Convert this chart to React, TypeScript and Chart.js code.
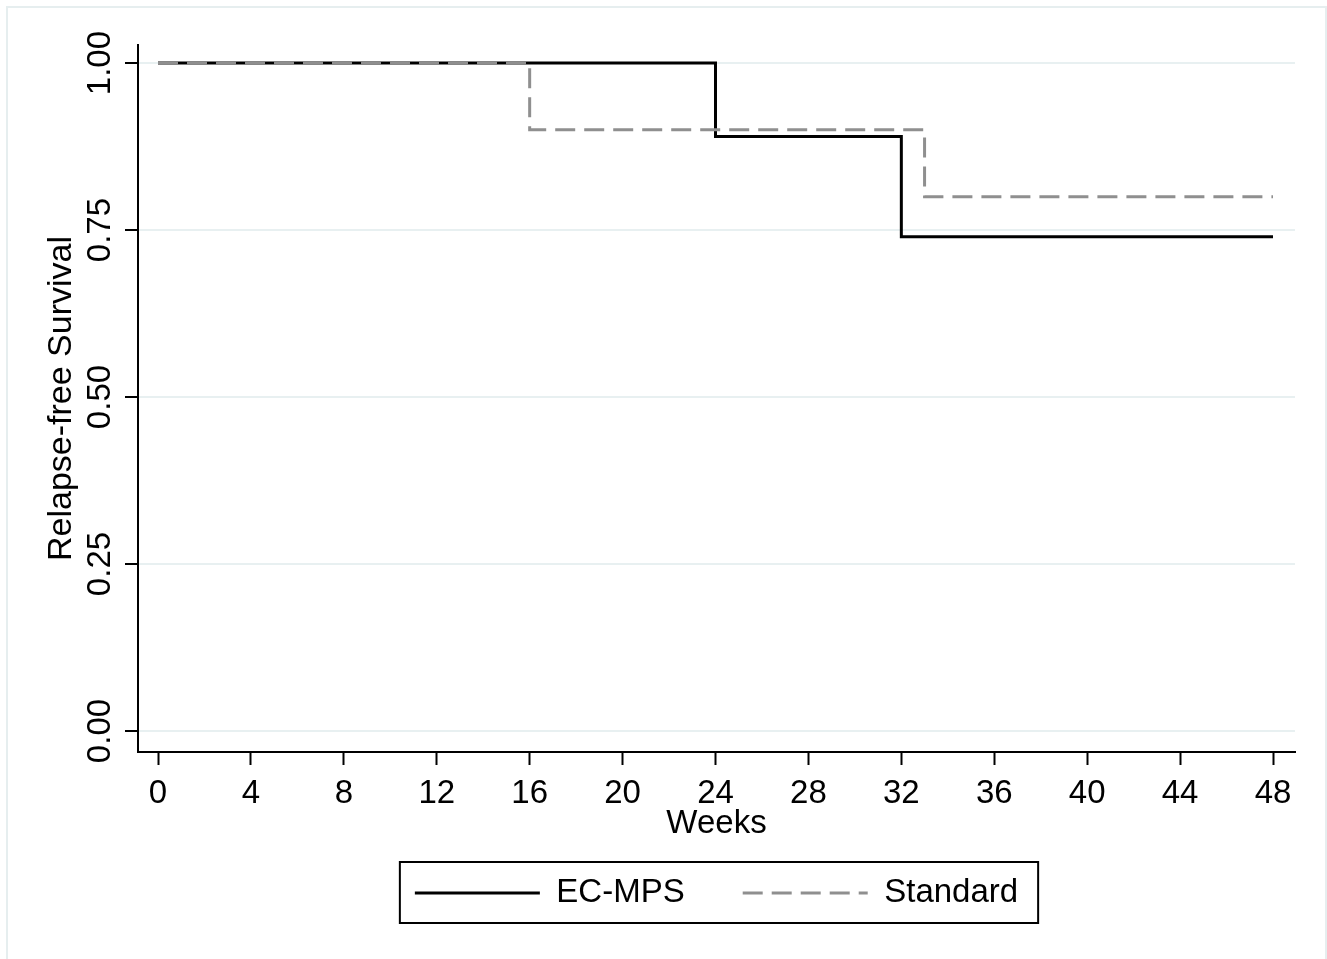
import React, { useEffect, useRef } from "react";
import { Chart, registerables } from "chart.js";

Chart.register(...registerables);

const ecMpsWeeks = [0, 24, 32, 48];
const ecMpsSurvival = [1.0, 0.89, 0.74, 0.74];
const standardWeeks = [0, 16, 33, 48];
const standardSurvival = [1.0, 0.9, 0.8, 0.8];
const xTickValues = [0, 4, 8, 12, 16, 20, 24, 28, 32, 36, 40, 44, 48];
const yTickValues = [0, 0.25, 0.5, 0.75, 1.0];
const seriesNames = ["EC-MPS", "Standard"];
const xTitle = "Weeks";
const yTitle = "Relapse-free Survival";

const FONT = "'Liberation Sans', Arial, sans-serif";

const framePlugin = {
  id: "frames",
  beforeDraw(chart: any) {
    const ctx = chart.ctx;
    ctx.save();
    ctx.fillStyle = "#ffffff";
    ctx.fillRect(0, 0, chart.width, chart.height);
    ctx.strokeStyle = "#e6eeef";
    ctx.lineWidth = 2;
    ctx.strokeRect(7, 7, chart.width - 8, chart.height + 10);
    ctx.restore();
  },
  afterDraw(chart: any) {
    const lg = chart.legend;
    if (!lg || !lg.legendHitBoxes || !lg.legendHitBoxes.length) return;
    const hb = lg.legendHitBoxes;
    const first = hb[0];
    const last = hb[hb.length - 1];
    const left = first.left - 15;
    const right = last.left + last.width + 20;
    const cy = first.top + first.height / 2;
    const ctx = chart.ctx;
    ctx.save();
    ctx.strokeStyle = "#000";
    ctx.lineWidth = 2;
    ctx.setLineDash([]);
    ctx.strokeRect(left, cy - 31, right - left, 61);
    ctx.restore();
  },
};

export default function App() {
  const ref = useRef<HTMLCanvasElement | null>(null);
  useEffect(() => {
    if (!ref.current) return;
    const chart = new Chart(ref.current, {
      type: "line",
      data: {
        datasets: [
          {
            label: seriesNames[0],
            data: ecMpsWeeks.map((w, i) => ({ x: w, y: ecMpsSurvival[i] })),
            borderColor: "#000000",
            backgroundColor: "#000000",
            borderWidth: 3,
            stepped: true,
            pointRadius: 0,
            order: 2,
          },
          {
            label: seriesNames[1],
            data: standardWeeks.map((w, i) => ({ x: w, y: standardSurvival[i] })),
            borderColor: "#8f8f8f",
            backgroundColor: "#8f8f8f",
            borderWidth: 3,
            borderDash: [20, 9],
            stepped: true,
            pointRadius: 0,
            order: 1,
          },
        ],
      },
      options: {
        animation: false,
        responsive: false,
        devicePixelRatio: 1,
        layout: { padding: { left: 45, right: 32, top: 45, bottom: 39.5 } },
        scales: {
          x: {
            type: "linear",
            min: -0.861,
            max: 48.947,
            afterBuildTicks: (s: any) => {
              s.ticks = xTickValues.map((v) => ({ value: v }));
            },
            ticks: {
              autoSkip: false,
              maxRotation: 0,
              minRotation: 0,
              padding: 12,
              color: "#000",
              font: { family: FONT, size: 33, lineHeight: 1 },
              callback: (v: any) => String(v),
            },
            grid: {
              drawOnChartArea: false,
              drawTicks: true,
              tickLength: 13,
              tickColor: "#000",
              tickWidth: 2,
            },
            border: { color: "#000", width: 2 },
            title: {
              display: true,
              text: xTitle,
              color: "#000",
              font: { family: FONT, size: 33, lineHeight: 1 },
              padding: { top: -14.5, bottom: -22 },
            },
          },
          y: {
            type: "linear",
            min: -0.0314,
            max: 1.027,
            afterBuildTicks: (s: any) => {
              s.ticks = yTickValues.map((v) => ({ value: v }));
            },
            afterFit: (s: any) => {
              s.width = 93;
            },
            ticks: {
              autoSkip: false,
              minRotation: 90,
              maxRotation: 90,
              crossAlign: "center",
              padding: -8,
              color: "#000",
              font: { family: FONT, size: 33, lineHeight: 1 },
              callback: (v: any) => Number(v).toFixed(2),
            },
            grid: {
              color: "#e8f0f1",
              lineWidth: 2,
              drawTicks: true,
              tickLength: 13,
              tickColor: "#000",
              tickWidth: 2,
            },
            border: { color: "#000", width: 2 },
            title: {
              display: true,
              text: yTitle,
              color: "#000",
              font: { family: FONT, size: 34, lineHeight: 1 },
              padding: { top: 0, bottom: 0 },
            },
          },
        },
        plugins: {
          legend: {
            display: true,
            position: "bottom",
            fullSize: false,
            labels: {
              usePointStyle: true,
              pointStyle: "line",
              pointStyleWidth: 125,
              padding: 58,
              color: "#000",
              font: { family: FONT, size: 33 },
              sort: (a: any, b: any) => a.datasetIndex - b.datasetIndex,
              generateLabels: (chart: any) => {
                const items = (Chart as any).defaults.plugins.legend.labels.generateLabels(chart);
                items.forEach((it: any) => {
                  const ds = chart.data.datasets[it.datasetIndex];
                  it.lineDash = ds.borderDash || [];
                  it.lineWidth = ds.borderWidth;
                  it.strokeStyle = ds.borderColor;
                  it.fillStyle = ds.borderColor;
                  it.lineCap = "butt";
                });
                return items;
              },
            },
          },
          tooltip: { enabled: false },
        },
      },
      plugins: [framePlugin],
    } as any);
    return () => chart.destroy();
  }, []);
  return (
    <div style={{ position: "fixed", left: 0, top: 0, width: 1327, height: 959, background: "#fff" }}>
      <canvas ref={ref} width={1327} height={959} style={{ width: 1327, height: 959, display: "block" }} />
    </div>
  );
}
